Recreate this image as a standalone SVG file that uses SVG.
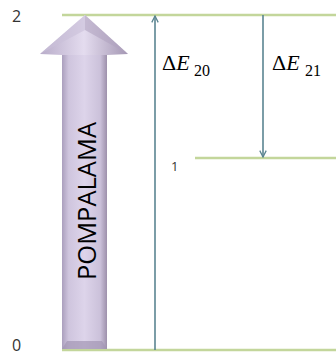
<svg xmlns="http://www.w3.org/2000/svg" width="336" height="356" viewBox="0 0 336 356">
<style>
.lvl{stroke:#c3d69b;stroke-width:2.5;fill:none}
.tr{stroke:#5b8591;stroke-width:1.6;fill:none}
.num{font-family:"Open Sans","Liberation Sans",sans-serif;font-size:16px;fill:#333}
.dE{font-family:"Liberation Serif","Times New Roman",serif;font-size:22px;fill:#000}
.sub{font-family:"Liberation Serif","Times New Roman",serif;font-size:16px;fill:#000}
.pump{font-family:"Open Sans","Liberation Sans",sans-serif;font-size:25px;fill:#000}
</style>
<defs>
<linearGradient id="body" x1="0" y1="0" x2="1" y2="0">
<stop offset="0" stop-color="#ab9fbd"/>
<stop offset="0.15" stop-color="#cfc5de"/>
<stop offset="0.5" stop-color="#ddd4ea"/>
<stop offset="0.85" stop-color="#cbc1da"/>
<stop offset="1" stop-color="#9d90ab"/>
</linearGradient>
<linearGradient id="head" x1="0" y1="0" x2="1" y2="0">
<stop offset="0" stop-color="#b8acc9"/>
<stop offset="0.5" stop-color="#e4dcef"/>
<stop offset="1" stop-color="#a497b3"/>
</linearGradient>
<marker id="ah" viewBox="0 0 10 10" refX="9" refY="5" markerWidth="8" markerHeight="8" markerUnits="userSpaceOnUse" orient="auto">
<path d="M1,1 L9,5 L1,9" fill="none" stroke="#5b8591" stroke-width="1.6"/>
</marker>
</defs>
<g id="levels">
<line id="level2" class="lvl" x1="62" y1="15" x2="336" y2="15"/>
<line id="level1" class="lvl" x1="195" y1="158" x2="336" y2="158"/>
<line id="level0" class="lvl" x1="62" y1="350" x2="336" y2="350"/>
</g>
<g id="labels">
<text class="num" x="12" y="22">2</text>
<text class="num" x="171" y="171" style="font-size:13px">1</text>
<text class="num" x="12" y="351">0</text>
</g>
<g id="pump">
<path d="M62,54 L62,349 L107,349 L107,54 Z" fill="url(#body)"/>
<path d="M62,349 L67,341 L102,341 L107,349 Z" fill="#a395b3" opacity="0.7"/>
<path d="M85,15 L128,54 L107,55 L62,55 L40,54 Z" fill="url(#head)"/>
<path d="M85,15 L85,30 L40,54 Z" fill="#c9bfd9" opacity="0.6"/>
<path d="M85,15 L85,30 L128,54 Z" fill="#b1a4c0" opacity="0.6"/>
<text class="pump" transform="translate(96,201) rotate(-90)" text-anchor="middle" textLength="158" lengthAdjust="spacingAndGlyphs">POMPALAMA</text>
</g>
<g id="connectors">
<line id="dE20" class="tr" x1="155" y1="350" x2="155" y2="16" marker-end="url(#ah)"/>
<line id="dE21" class="tr" x1="263" y1="15" x2="263" y2="157" marker-end="url(#ah)"/>
</g>
<g id="dE20label">
<text class="dE" x="162" y="70">Δ<tspan font-style="italic">E</tspan></text>
<text class="sub" x="194" y="76">20</text>
</g>
<g id="dE21label">
<text class="dE" x="272" y="70">Δ<tspan font-style="italic">E</tspan></text>
<text class="sub" x="305" y="76">21</text>
</g>
</svg>
